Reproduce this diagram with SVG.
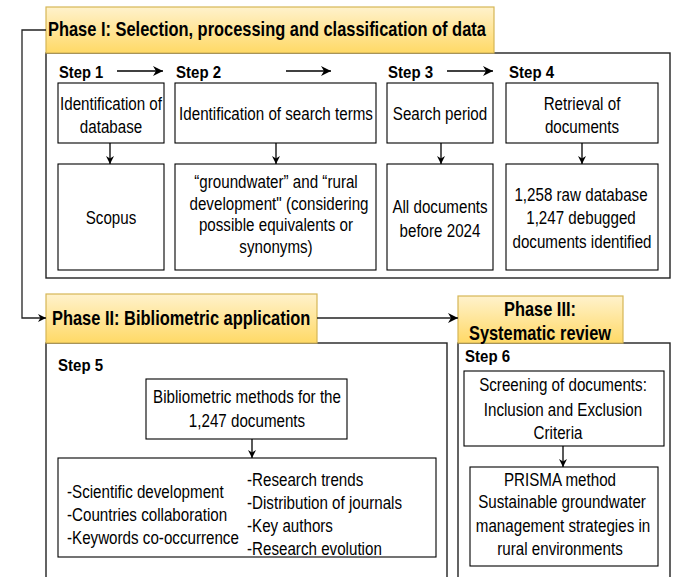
<svg xmlns="http://www.w3.org/2000/svg" width="674" height="577" viewBox="0 0 674 577">
<defs>
<linearGradient id="hdr" x1="0" y1="0" x2="0" y2="1">
<stop offset="0" stop-color="#fff2cc"/>
<stop offset="1" stop-color="#ffd966"/>
</linearGradient>
<marker id="ah" viewBox="0 0 10 10" refX="10" refY="5" markerWidth="8" markerHeight="8" markerUnits="userSpaceOnUse" orient="auto">
<path d="M0,0 L10,5 L0,10 L3,5 z" fill="#000"/>
</marker>
<marker id="ahl" viewBox="0 0 10 10" refX="10" refY="5" markerWidth="10" markerHeight="10" markerUnits="userSpaceOnUse" orient="auto">
<path d="M0,0 L10,5 L0,10 L3,5 z" fill="#000"/>
</marker>
</defs>
<style>
.cont{fill:#fff;stroke:#222;stroke-width:1.4}
.hdr{fill:url(#hdr);stroke:#d6b656;stroke-width:1.2}
.box{fill:#fff;stroke:#000;stroke-width:1.1}
text{font-family:"Liberation Sans",Arial,sans-serif;fill:#000}
.t{font-size:18.5px;text-anchor:middle}
.l{font-size:18.5px}
.s{font-size:16.5px;font-weight:bold}
.h{font-size:20px;font-weight:bold}
.hc{font-size:20px;font-weight:bold;text-anchor:middle}
.c{fill:none;stroke:#000;stroke-width:1.3}
.cg{fill:none;stroke:#222;stroke-width:1.3}
</style>

<g id="phase1">
<rect class="cont" x="46" y="53" width="624" height="225"/>
<rect class="hdr" x="46" y="7" width="448" height="46"/>
<text class="h" transform="translate(48,36) scale(0.82,1)" textLength="534" lengthAdjust="spacingAndGlyphs">Phase I: Selection, processing and classification of data</text>
</g>

<g id="phase2">
<rect class="cont" x="46" y="343" width="401" height="250"/>
<rect class="hdr" x="46" y="294" width="271" height="49"/>
<text class="h" transform="translate(52,325) scale(0.82,1)" textLength="315" lengthAdjust="spacingAndGlyphs">Phase II: Bibliometric application</text>
</g>

<g id="phase3">
<rect class="cont" x="458" y="343" width="212" height="250"/>
<rect class="hdr" x="458" y="296" width="165" height="47"/>
<text class="hc" transform="translate(540,316) scale(0.82,1)">Phase III:</text>
<text class="hc" transform="translate(540,340) scale(0.82,1)">Systematic review</text>
</g>

<g id="step-labels">
<text class="s" transform="translate(59,78) scale(0.82,1)" textLength="54" lengthAdjust="spacingAndGlyphs">Step 1</text>
<text class="s" transform="translate(176,78) scale(0.82,1)" textLength="55" lengthAdjust="spacingAndGlyphs">Step 2</text>
<text class="s" transform="translate(388,78) scale(0.82,1)" textLength="55" lengthAdjust="spacingAndGlyphs">Step 3</text>
<text class="s" transform="translate(509,78) scale(0.82,1)" textLength="55" lengthAdjust="spacingAndGlyphs">Step 4</text>
<text class="s" transform="translate(58,371) scale(0.82,1)" textLength="55" lengthAdjust="spacingAndGlyphs">Step 5</text>
<text class="s" transform="translate(465,362) scale(0.82,1)" textLength="55" lengthAdjust="spacingAndGlyphs">Step 6</text>
</g>

<g id="n-ident-db">
<rect class="box" x="58" y="83" width="106" height="60"/>
<text class="t" transform="translate(111,110) scale(0.82,1)">Identification of</text>
<text class="t" transform="translate(111,133) scale(0.82,1)">database</text>
</g>
<g id="n-ident-terms">
<rect class="box" x="175" y="83" width="201" height="60"/>
<text class="t" transform="translate(276,120) scale(0.82,1)">Identification of search terms</text>
</g>
<g id="n-search-period">
<rect class="box" x="387" y="83" width="106" height="60"/>
<text class="t" transform="translate(440,120) scale(0.82,1)">Search period</text>
</g>
<g id="n-retrieval">
<rect class="box" x="506" y="83" width="152" height="60"/>
<text class="t" transform="translate(582,110) scale(0.82,1)">Retrieval of</text>
<text class="t" transform="translate(582,133) scale(0.82,1)">documents</text>
</g>

<g id="n-scopus">
<rect class="box" x="58" y="164" width="106" height="106"/>
<text class="t" transform="translate(111,224) scale(0.82,1)">Scopus</text>
</g>
<g id="n-terms">
<rect class="box" x="175" y="164" width="201" height="106"/>
<text class="t" transform="translate(276,188) scale(0.82,1)">“groundwater” and “rural</text>
<text class="t" transform="translate(279,210) scale(0.82,1)">development" (considering</text>
<text class="t" transform="translate(276,231) scale(0.82,1)">possible equivalents or</text>
<text class="t" transform="translate(276,253) scale(0.82,1)">synonyms)</text>
</g>
<g id="n-all-docs">
<rect class="box" x="387" y="164" width="106" height="106"/>
<text class="t" transform="translate(440,213) scale(0.82,1)">All documents</text>
<text class="t" transform="translate(440,237) scale(0.82,1)">before 2024</text>
</g>
<g id="n-raw">
<rect class="box" x="506" y="164" width="152" height="106"/>
<text class="t" transform="translate(581,201) scale(0.82,1)">1,258 raw database</text>
<text class="t" transform="translate(581,224) scale(0.82,1)">1,247 debugged</text>
<text class="t" transform="translate(582,248) scale(0.82,1)">documents identified</text>
</g>

<g id="n-biblio">
<rect class="box" x="146" y="379" width="201" height="60"/>
<text class="t" transform="translate(247,403) scale(0.82,1)">Bibliometric methods for the</text>
<text class="t" transform="translate(247,427) scale(0.82,1)">1,247 documents</text>
</g>
<g id="n-list">
<rect class="box" x="58" y="458" width="378" height="99"/>
<text class="l" transform="translate(67,498) scale(0.82,1)">-Scientific development</text>
<text class="l" transform="translate(67,521) scale(0.82,1)">-Countries collaboration</text>
<text class="l" transform="translate(67,544) scale(0.82,1)">-Keywords co-occurrence</text>
<text class="l" transform="translate(247,486) scale(0.82,1)">-Research trends</text>
<text class="l" transform="translate(247,509) scale(0.82,1)">-Distribution of journals</text>
<text class="l" transform="translate(247,532) scale(0.82,1)">-Key authors</text>
<text class="l" transform="translate(247,555) scale(0.82,1)">-Research evolution</text>
</g>

<g id="n-screening">
<rect class="box" x="464" y="371" width="200" height="75"/>
<text class="t" transform="translate(563,391) scale(0.82,1)">Screening of documents:</text>
<text class="t" transform="translate(563,416) scale(0.82,1)">Inclusion and Exclusion</text>
<text class="t" transform="translate(558,439) scale(0.82,1)">Criteria</text>
</g>
<g id="n-prisma">
<rect class="box" x="470" y="467" width="188" height="99"/>
<text class="t" transform="translate(560,486) scale(0.82,1)">PRISMA method</text>
<text class="t" transform="translate(562,508) scale(0.82,1)">Sustainable groundwater</text>
<text class="t" transform="translate(563,532) scale(0.82,1)">management strategies in</text>
<text class="t" transform="translate(560,555) scale(0.82,1)">rural environments</text>
</g>

<g id="connectors">
<path class="c" d="M117,71 H163" marker-end="url(#ahl)"/>
<path class="c" d="M286,71 H331" marker-end="url(#ahl)"/>
<path class="c" d="M447,71 H493" marker-end="url(#ahl)"/>
<path class="c" d="M110,143 V164" marker-end="url(#ah)"/>
<path class="c" d="M276,143 V164" marker-end="url(#ah)"/>
<path class="c" d="M441,143 V164" marker-end="url(#ah)"/>
<path class="c" d="M582,143 V164" marker-end="url(#ah)"/>
<path class="c" d="M252,439 V458" marker-end="url(#ah)"/>
<path class="c" d="M563,446 V467" marker-end="url(#ah)"/>
<path class="cg" d="M46,30 H22 V318 H46" marker-end="url(#ah)"/>
<path class="cg" d="M317,318 H458" marker-end="url(#ahl)"/>
</g>
</svg>
